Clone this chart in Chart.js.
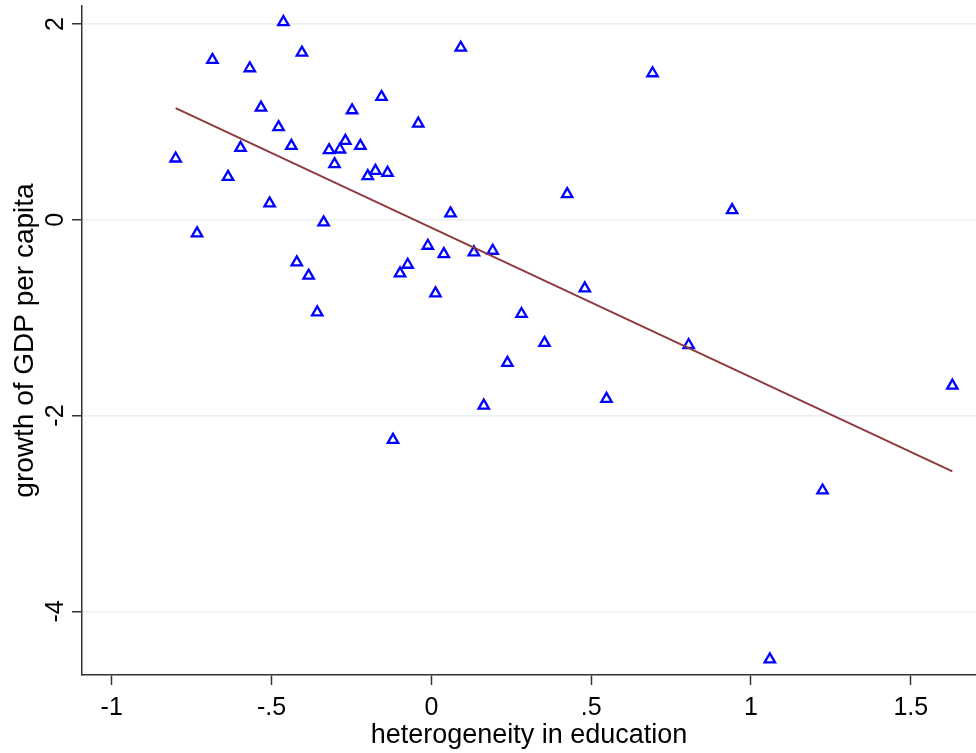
<!DOCTYPE html>
<html>
<head>
<meta charset="utf-8">
<script src="https://cdn.jsdelivr.net/npm/chart.js@4.4.1/dist/chart.umd.min.js"></script>
<style>
  html, body { margin: 0; padding: 0; background: #fff; }
  canvas { display: block; }
</style>
</head>
<body>
<canvas id="myChart" width="976" height="753"></canvas>
<script>
// heterogeneity in education (x) vs growth of GDP per capita (y)
const xValues = [-0.463, -0.405, -0.685, -0.568, -0.533, -0.478, -0.438, -0.597, -0.800, -0.636,
  -0.506, -0.337, -0.733, 0.092, -0.156, -0.248, -0.041, -0.269, -0.222, -0.320,
  -0.286, -0.303, -0.175, -0.137, -0.199, 0.425, 0.060, 0.692, 0.941, -0.421,
  -0.384, -0.357, -0.011, 0.039, 0.133, 0.192, -0.074, -0.098, 0.013, 0.480,
  0.282, 0.354, 0.238, 0.164, 0.548, -0.120, 0.805, 1.630, 1.224, 1.059];
const yValues = [2.02, 1.707, 1.633, 1.548, 1.146, 0.946, 0.755, 0.735, 0.626, 0.439,
  0.167, -0.027, -0.139, 1.758, 1.255, 1.119, 0.983, 0.806, 0.755, 0.711,
  0.718, 0.568, 0.500, 0.480, 0.446, 0.262, 0.065, 1.497, 0.099, -0.435,
  -0.571, -0.946, -0.265, -0.350, -0.333, -0.316, -0.459, -0.547, -0.751, -0.700,
  -0.962, -1.258, -1.462, -1.898, -1.829, -2.248, -1.279, -1.694, -2.765, -4.490];

// fitted line endpoints
const fitX = [-0.80, 1.63];
const fitY = [1.14, -2.57];

const xTicks = [-1, -0.5, 0, 0.5, 1, 1.5];
const yTicks = [-4, -2, 0, 2];

const fontFamily = "'Liberation Sans', Arial, sans-serif";
const fmt = (v) => String(v).replace('0.', '.');

const points = xValues.map((x, i) => ({ x: x, y: yValues[i] }));
const fitPoints = fitX.map((x, i) => ({ x: x, y: fitY[i] }));

const ctx = document.getElementById('myChart').getContext('2d');

new Chart(ctx, {
  type: 'scatter',
  data: {
    datasets: [
      {
        type: 'line',
        data: fitPoints,
        borderColor: '#8e3a3e',
        borderWidth: 2,
        pointRadius: 0,
        fill: false,
        tension: 0
      },
      {
        data: points,
        pointStyle: 'triangle',
        pointRadius: 6,
        pointBorderWidth: 2.3,
        pointBorderColor: '#0000ff',
        pointBackgroundColor: 'rgba(0,0,0,0)'
      }
    ]
  },
  options: {
    responsive: false,
    animation: false,
    layout: { autoPadding: false, padding: { top: 6, left: 0, right: 0, bottom: 0 } },
    plugins: {
      legend: { display: false },
      tooltip: { enabled: false }
    },
    scales: {
      x: {
        type: 'linear',
        min: -1.093,
        max: 1.704,
        afterBuildTicks: (s) => { s.ticks = xTicks.map(v => ({ value: v })); },
        afterFit: (s) => { s.height = 78; s.paddingLeft = 0; s.paddingRight = 0; },
        border: { display: true, color: '#333', width: 1.5 },
        grid: { drawOnChartArea: false, drawTicks: true, tickLength: 10, tickColor: '#333', tickWidth: 1.5 },
        ticks: {
          autoSkip: false,
          maxRotation: 0,
          padding: 8,
          color: '#000',
          font: { family: fontFamily, size: 25 },
          callback: (v) => fmt(v)
        },
        title: {
          display: true,
          text: 'heterogeneity in education',
          color: '#000',
          font: { family: fontFamily, size: 27 },
          padding: { top: 0, bottom: 1 }
        }
      },
      y: {
        type: 'linear',
        min: -4.650,
        max: 2.184,
        afterBuildTicks: (s) => { s.ticks = yTicks.map(v => ({ value: v })); },
        afterFit: (s) => { s.width = 82; s.paddingTop = 0; s.paddingBottom = 0; },
        border: { display: true, color: '#333', width: 1.5 },
        grid: { color: '#e9eff2', lineWidth: 1.5, drawTicks: true, tickLength: 10, tickColor: '#333', tickWidth: 1.5 },
        ticks: {
          minRotation: 90,
          maxRotation: 90,
          crossAlign: 'center',
          padding: 5,
          color: '#000',
          font: { family: fontFamily, size: 25 },
          callback: (v) => fmt(v)
        },
        title: {
          display: true,
          text: 'growth of GDP per capita',
          color: '#000',
          font: { family: fontFamily, size: 28 },
          padding: { top: 8, bottom: 0 }
        }
      }
    }
  }
});
</script>
</body>
</html>
